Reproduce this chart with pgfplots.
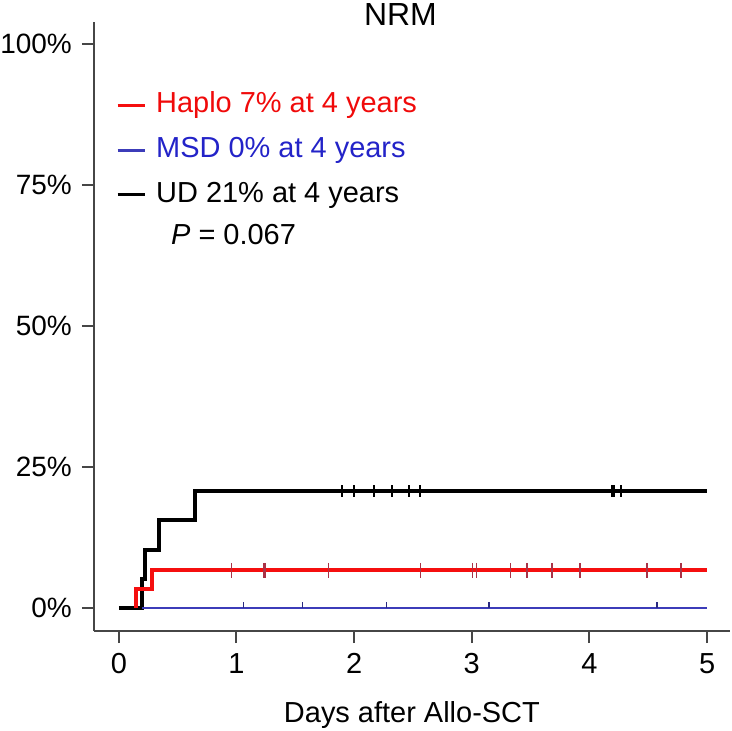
\documentclass[border=0pt]{standalone}
\usepackage{fontspec}
\setmainfont{Liberation Sans}
\usepackage{pgfplots}
\pgfplotsset{compat=1.18}
\definecolor{haplo}{RGB}{245,15,15}
\definecolor{haplotxt}{RGB}{240,10,10}
\definecolor{haplotick}{RGB}{170,50,70}
\definecolor{msd}{RGB}{60,60,185}
\definecolor{msdtxt}{RGB}{35,35,200}
\definecolor{spine}{RGB}{70,70,70}
\begin{document}
\fontsize{14.5}{17}\selectfont
\begin{tikzpicture}
\begin{axis}[
  scale only axis,
  width=318.5pt, height=305pt,
  xmin=-0.212, xmax=5.195,
  ymin=-4.07, ymax=103.9,
  axis lines=left,
  axis line style={-, spine, line width=1pt},
  xtick={0,1,2,3,4,5},
  ytick={0,25,50,75,100},
  yticklabels={0\%,25\%,50\%,75\%,100\%},
  tick align=outside,
  major tick length=6pt,
  tick style={spine, line width=1pt},
  /pgf/number format/assume math mode=true,
  tick label style={font=\fontsize{14.5}{17}\selectfont},
  yticklabel style={font=\fontsize{14}{17}\selectfont},
  xlabel={Days after Allo-SCT},
  xlabel style={at={(axis description cs:0.5,0)}, anchor=base, yshift=-45.5pt,
    font=\fontsize{14.5}{17}\selectfont},
  legend style={at={(rel axis cs:0.0345,0.888)}, anchor=north west,
    draw=none, fill=none, inner sep=0pt, row sep=8pt,
    nodes={inner sep=0pt, text height=11pt, text depth=3.5pt},
    font=\fontsize{14.5}{17}\selectfont,
    /tikz/every odd column/.append style={column sep=5pt}},
  legend cell align=left,
  legend image code/.code={\draw[#1] (0pt,0pt) -- (13.5pt,0pt);},
  clip=false,
]
% cumulative incidence curves
\addplot[black, line width=2pt, const plot, forget plot] coordinates {
  (0,0) (0.20,5.2) (0.22,10.3) (0.34,15.6) (0.65,20.7) (5,20.7)};
\addplot[haplo, line width=2pt, const plot, forget plot] coordinates {
  (0.145,0) (0.145,3.4) (0.28,6.7) (5,6.7)};
\addplot[msd, line width=1pt, forget plot] coordinates {
  (0.20,0) (5,0)};
% censoring marks
\addplot[only marks, mark=|, mark size=3pt, mark options={black, line width=1pt}, forget plot]
  coordinates {(1.893,20.7) (2.003,20.7) (2.165,20.7) (2.326,20.7) (2.470,20.7) (2.564,20.7)
  (4.194,20.7) (4.210,20.7) (4.270,20.7)};
\addplot[only marks, mark=|, mark size=3.75pt, mark options={haplotick, line width=0.8pt}, forget plot]
  coordinates {(0.959,6.7) (1.232,6.7) (1.246,6.7) (1.783,6.7) (2.564,6.7) (3.005,6.7) (3.039,6.7)
  (3.328,6.7) (3.472,6.7) (3.684,6.7) (3.922,6.7) (4.491,6.7) (4.779,6.7)};
\addplot[only marks, mark=|, mark size=1.5pt, mark options={msd!70!black, line width=0.8pt, yshift=1.5pt}, forget plot]
  coordinates {(1.061,0) (1.562,0) (2.275,0) (3.149,0) (4.576,0)};
% legend
\addlegendimage{haplo, line width=1.5pt}
\addlegendentry{\textcolor{haplotxt}{Haplo 7\% at 4 years}}
\addlegendimage{msd, line width=1.5pt}
\addlegendentry{\textcolor{msdtxt}{MSD 0\% at 4 years}}
\addlegendimage{black, line width=1.5pt}
\addlegendentry{UD 21\% at 4 years}
\node[anchor=base west, inner sep=0pt] at (rel axis cs:0.1209,0.634) {\textit{P} = 0.067};
\node[anchor=base, inner sep=0pt, font=\fontsize{16}{19}\selectfont] at (rel axis cs:0.482,0.9934) {NRM};
\coordinate (bl) at (rel axis cs:0,0);
\coordinate (tr) at (rel axis cs:1,1);
\end{axis}
\pgfresetboundingbox
\path ([shift={(-47pt,-50pt)}]bl) rectangle ([shift={(1pt,11pt)}]tr);
\end{tikzpicture}
\end{document}
